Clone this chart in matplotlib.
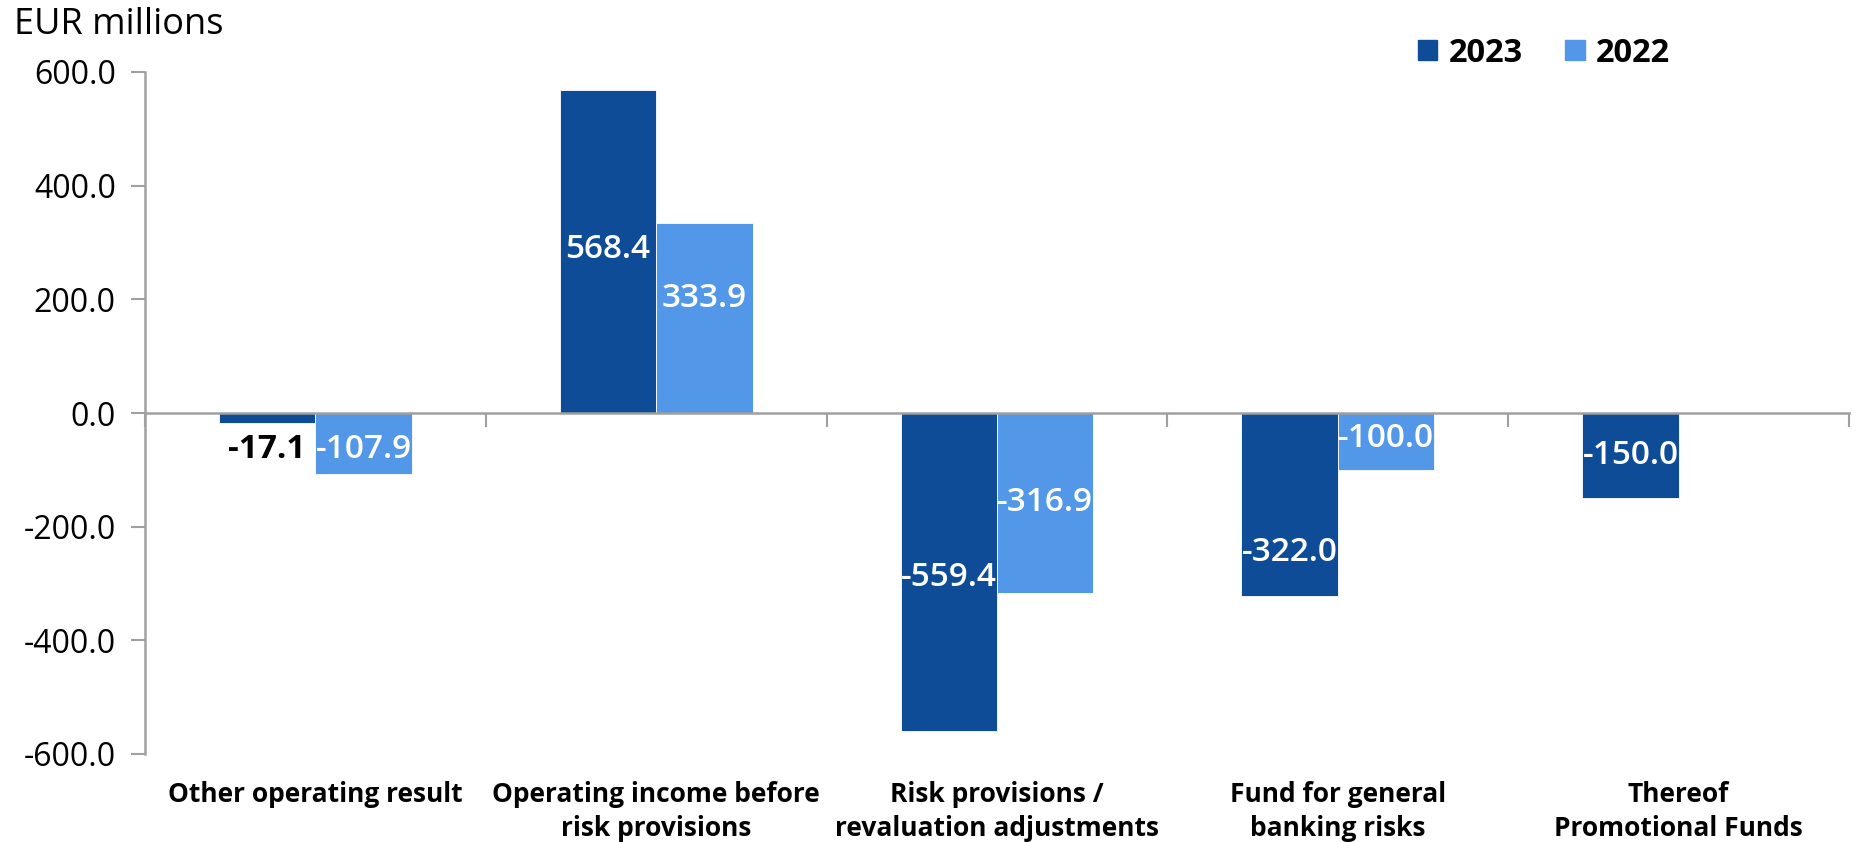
import numpy as np
import matplotlib
matplotlib.use("Agg")
import matplotlib.pyplot as plt
from matplotlib.patches import Patch
from matplotlib.transforms import blended_transform_factory

# Income statement components, EUR millions
categories = [
    "Other operating result",
    "Operating income before\nrisk provisions",
    "Risk provisions /\nrevaluation adjustments",
    "Fund for general\nbanking risks",
    "Thereof\nPromotional Funds",
]
values_2023 = [-17.1, 568.4, -559.4, -322.0, -150.0]
values_2022 = [-107.9, 333.9, -316.9, -100.0, np.nan]
series_names = ["2023", "2022"]
y_ticks = [-600, -400, -200, 0, 200, 400, 600]

# where each value label sits (data units), as laid out in the report
label_y_2023 = [-65, 288, -289, -245, -74]
label_y_2022 = [-65, 202, -158, -44, None]

DARK = "#0F4C97"
LIGHT = "#5397E8"
GRID = "#A0A0A0"
FONT = ["Open Sans", "DejaVu Sans"]
plt.rcParams["font.family"] = FONT

fig = plt.figure(figsize=(18.57, 8.42), dpi=100)
ax = fig.add_axes([145 / 1857, 88 / 842, (1849 - 145) / 1857, (754 - 72) / 842])

x = np.arange(len(categories))
w = 0.283
ax.bar(x - w / 2, values_2023, w, color=DARK, edgecolor="white", linewidth=0.6, zorder=2)
ax.bar(x + w / 2, values_2022, w, color=LIGHT, edgecolor="white", linewidth=0.6, zorder=2)

ax.set_xlim(-0.5, len(categories) - 0.5)
ax.set_ylim(-600, 600)

# y axis
ax.set_yticks(y_ticks)
ax.set_yticklabels([f"{v:.1f}" for v in y_ticks])
ax.tick_params(axis="y", length=10, width=1.5, color=GRID, labelsize=23, pad=11)
ax.spines["left"].set_color(GRID)
ax.spines["left"].set_linewidth(1.8)

# x axis drawn at zero with ticks between categories
ax.spines["bottom"].set_position(("data", 0))
ax.spines["bottom"].set_color(GRID)
ax.spines["bottom"].set_linewidth(1.8)
ax.spines["top"].set_visible(False)
ax.spines["right"].set_visible(False)
ax.set_xticks(np.arange(len(categories) + 1) - 0.5)
ax.set_xticklabels([])
ax.tick_params(axis="x", direction="out", length=10, width=1.5, color=GRID)

# category names below the plot area
trans = blended_transform_factory(ax.transData, ax.transAxes)
for xi, name in zip(x, categories):
    ax.text(xi, -0.04, name, transform=trans, ha="center", va="top",
            fontsize=19, fontweight="bold", linespacing=1.3, family=FONT)

# value labels
for xi, v, ly in zip(x, values_2023, label_y_2023):
    inside = abs(v) > 60
    ax.text(xi - w / 2, ly, f"{v:.1f}", ha="center", va="center", fontsize=24,
            color="white" if inside else "black",
            fontweight="semibold" if inside else "bold", zorder=3)
for xi, v, ly in zip(x, values_2022, label_y_2022):
    if ly is None or np.isnan(v):
        continue
    ax.text(xi + w / 2, ly, f"{v:.1f}", ha="center", va="center", fontsize=24,
            color="white", fontweight="semibold", zorder=3)

fig.text(14 / 1857, 1 - 25 / 842, "EUR millions", fontsize=26, va="center", ha="left")

handles = [Patch(facecolor=DARK, edgecolor=DARK), Patch(facecolor=LIGHT, edgecolor=LIGHT)]
leg = fig.legend(handles, series_names, loc="center", bbox_to_anchor=(1544 / 1857, 1 - 53 / 842),
                 ncol=2, frameon=False, handlelength=0.6, handleheight=0.6,
                 handletextpad=0.35, columnspacing=1.3,
                 prop={"size": 23.5, "weight": "bold", "family": FONT})

fig.savefig("out.png", dpi=100)
